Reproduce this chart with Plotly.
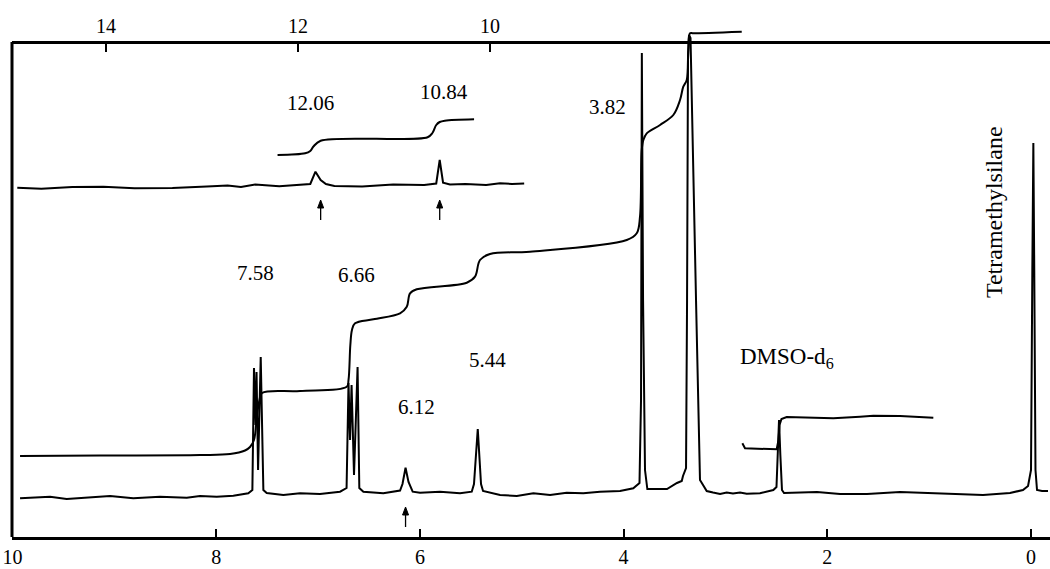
import plotly.graph_objects as go

# ---------------- data ----------------
# main 1H spectrum: chemical shift (ppm, bottom scale) and trace height
main_ppm = [9.926, 9.631, 9.468, 9.271, 9.042, 8.814, 8.552, 8.289, 8.159, 7.995, 7.832, 7.685,
            7.645, 7.629, 7.614, 7.604, 7.589, 7.563, 7.545, 7.537, 7.504, 7.341, 7.177, 6.981,
            6.784, 6.720, 6.701, 6.686, 6.671, 6.647, 6.612, 6.595, 6.555, 6.359, 6.195, 6.171,
            6.141, 6.112, 6.071, 5.999, 5.802, 5.606, 5.491, 5.469, 5.432, 5.400, 5.380, 5.213,
            5.049, 4.886, 4.722, 4.559, 4.396, 4.232, 4.035, 3.905, 3.844, 3.829, 3.821, 3.809,
            3.790, 3.767, 3.711, 3.574, 3.476, 3.429, 3.417, 3.387, 3.377, 3.368, 3.358, 3.343,
            3.289, 3.264, 3.250, 3.220, 3.184, 3.122, 3.053, 2.988, 2.926, 2.857, 2.791, 2.661,
            2.530, 2.499, 2.484, 2.474, 2.461, 2.445, 2.425, 2.101, 1.875, 1.610, 1.286, 0.962,
            0.697, 0.471, 0.206, 0.079, 0.029, 0.000, -0.013, -0.023, -0.032, -0.044, -0.059,
            -0.108, -0.167]
main_int = [38.7, 40.3, 38.0, 39.3, 41.0, 38.7, 40.3, 39.3, 41.0, 40.3, 41.3, 43.7,
            47, 169, 112, 165, 67, 180, 67, 47, 44, 42, 43.7, 43,
            45.3, 49, 154, 97, 152, 62, 170, 49, 45.3, 43.7, 46.5, 53,
            69.3, 55, 45.3, 44.3, 45.3, 43.7, 45.3, 53, 108, 53, 46, 42,
            41, 43.7, 42, 44.3, 43.7, 45.3, 46, 48.7, 54, 137, 484, 237,
            67, 48, 48, 48, 54, 56, 61, 69, 237, 477, 502, 499,
            237, 97, 57, 52, 46, 44.5, 43, 44.5, 43.5, 44.5, 43.2, 43.7,
            47, 50, 82, 117, 82, 47, 44, 45, 43, 43, 45, 44,
            43, 42, 44, 47, 51, 67, 267, 394, 267, 67, 47,
            46, 46]

# main integral trace
integral_ppm = [9.926, 9.141, 8.159, 7.864, 7.717, 7.668, 7.629, 7.599, 7.575, 7.550, 7.177,
                6.718, 6.701, 6.683, 6.667, 6.637, 6.457, 6.195, 6.129, 6.097, 6.031, 5.540,
                5.459, 5.410, 5.312, 4.919, 3.969, 3.871, 3.839, 3.822, 3.806, 3.773, 3.642,
                3.512, 3.446, 3.414, 3.380, 3.365, 3.348, 3.316, 2.840]
integral_val = [81, 81.5, 82, 83, 86.5, 90, 97, 122, 137, 144, 146,
                150.3, 157, 192, 207, 213.7, 217.7, 223.7, 230.3, 243.7, 247.7, 254.3,
                260.3, 277, 283, 285.3, 297, 303.7, 320.3, 387, 397, 403.7, 412,
                422, 437, 450.3, 457, 487, 503.7, 503.7, 505.3]

# DMSO-d6 integral trace
dmso_int_ppm = [2.834, 2.808, 2.497, 2.479, 2.469, 2.450, 2.399, 1.941, 1.679, 1.548, 1.286, 0.959]
dmso_int_val = [93.7, 88.7, 87.7, 97, 112, 118, 120, 118.7, 120.3, 121.3, 121, 119.3]

# inset (offset) sweep, top scale in ppm
inset_ppm = [14.924, 14.673, 14.350, 14.027, 13.703, 13.308, 12.949, 12.733, 12.594, 12.446,
             12.195, 11.907, 11.872, 11.818, 11.764, 11.709, 11.621, 11.332, 11.009, 10.686,
             10.560, 10.524, 10.489, 10.417, 10.255, 10.040, 9.896, 9.770, 9.644]
inset_int = [349.3, 348.2, 350, 350.3, 348.8, 348.9, 350.5, 351.5, 350, 352.5,
             350.8, 353.2, 353, 365.3, 357, 353, 351, 350.5, 352.5, 352,
             353.5, 377, 354.3, 352.5, 353, 352, 353.8, 353, 353.5]
inset_integral_ppm = [12.213, 11.925, 11.872, 11.839, 11.764, 10.650, 10.600, 10.560, 10.524,
                      10.471, 10.166]
inset_integral_val = [382, 383.7, 386, 390.5, 396.3, 399.7, 404, 412, 415, 416.3, 417.7]

bottom_ticks = [10, 8, 6, 4, 2, 0]
top_ticks = [14, 12, 10]

# peak labels
main_labels = ["7.58", "6.66", "6.12", "5.44", "3.82"]
main_label_ppm = [7.619, 6.627, 6.038, 5.334, 4.163]
main_label_y = [263.7, 262, 130.3, 177, 430.3]
inset_labels = ["12.06", "10.84"]
inset_label_ppm = [11.865, 10.479]
inset_label_y = [433.7, 445.3]
solvent_label = "DMSO-d<sub>6</sub>"
tms_label = "Tetramethylsilane"
# arrows marking the exchangeable protons
main_arrow_ppm = [6.141]
inset_arrow_ppm = [11.764, 10.524]

# ---------------- figure ----------------
FONT = "Liberation Serif"
W, H = 1050, 569
ML, MR, MT, MB = 12, 0, 20, 32
plot_h = H - MT - MB
frame_top = 495  # y value of top frame line

fig = go.Figure()
line = dict(color="black", width=2)
fig.add_trace(go.Scatter(x=main_ppm, y=main_int, mode="lines", line=line, xaxis="x", yaxis="y"))
fig.add_trace(go.Scatter(x=integral_ppm, y=integral_val, mode="lines", line=line, xaxis="x", yaxis="y",
                         line_shape="spline"))
fig.add_trace(go.Scatter(x=dmso_int_ppm, y=dmso_int_val, mode="lines", line=line, xaxis="x", yaxis="y"))
fig.add_trace(go.Scatter(x=inset_ppm, y=inset_int, mode="lines", line=line, xaxis="x2", yaxis="y"))
fig.add_trace(go.Scatter(x=inset_integral_ppm, y=inset_integral_val, mode="lines", line=line,
                         xaxis="x2", yaxis="y", line_shape="spline"))

annotations = []
for t, xp, yp in zip(main_labels, main_label_ppm, main_label_y):
    annotations.append(dict(x=xp, y=yp, xref="x", yref="y", text=t, showarrow=False,
                            font=dict(family=FONT, size=21, color="black")))
for t, xp, yp in zip(inset_labels, inset_label_ppm, inset_label_y):
    annotations.append(dict(x=xp, y=yp, xref="x2", yref="y", text=t, showarrow=False,
                            font=dict(family=FONT, size=21, color="black")))
annotations.append(dict(x=2.393, y=179, xref="x", yref="y", text=solvent_label, showarrow=False,
                        font=dict(family=FONT, size=23, color="black")))
annotations.append(dict(x=0.363, y=325, xref="x", yref="y", text=tms_label, showarrow=False,
                        textangle=-90, font=dict(family=FONT, size=24, color="black")))

shapes = [dict(type="line", xref="paper", yref="y", x0=0, x1=0, y0=0, y1=frame_top,
               line=dict(color="black", width=3))]


def arrow(xref, xp, y_tip, px_per_ppm):
    hw = 3.0 / px_per_ppm
    shapes.append(dict(type="line", xref=xref, yref="y", x0=xp, x1=xp, y0=y_tip - 20, y1=y_tip - 3,
                       line=dict(color="black", width=1.3)))
    shapes.append(dict(type="path", xref=xref, yref="y",
                       path=f"M {xp - hw},{y_tip - 8} L {xp},{y_tip} L {xp + hw},{y_tip - 8} Z",
                       fillcolor="black", line=dict(color="black", width=1)))


for xp in main_arrow_ppm:
    arrow("x", xp, 30, 101.85)
for xp in inset_arrow_ppm:
    arrow("x2", xp, 337, 96.0)

axis_common = dict(ticks="inside", ticklen=8, tickwidth=2, tickcolor="black",
                   showline=True, linewidth=3, linecolor="black", showgrid=False,
                   zeroline=False, tickfont=dict(family=FONT, size=20, color="black"))

fig.update_layout(
    width=W, height=H,
    margin=dict(l=ML, r=MR, t=MT, b=MB),
    plot_bgcolor="white", paper_bgcolor="white",
    showlegend=False,
    xaxis=dict(range=[10.005, -0.1865], tickvals=bottom_ticks, **axis_common),
    xaxis2=dict(range=[14.979, 4.167], tickvals=top_ticks, overlaying="x", anchor="free",
                position=frame_top / plot_h, side="top", **axis_common),
    yaxis=dict(range=[0, plot_h], visible=False),
    annotations=annotations,
    shapes=shapes,
)

fig.write_html("out.html", config={"displayModeBar": False},
               post_script="document.body.style.margin='0px';document.body.style.overflow='hidden';")
